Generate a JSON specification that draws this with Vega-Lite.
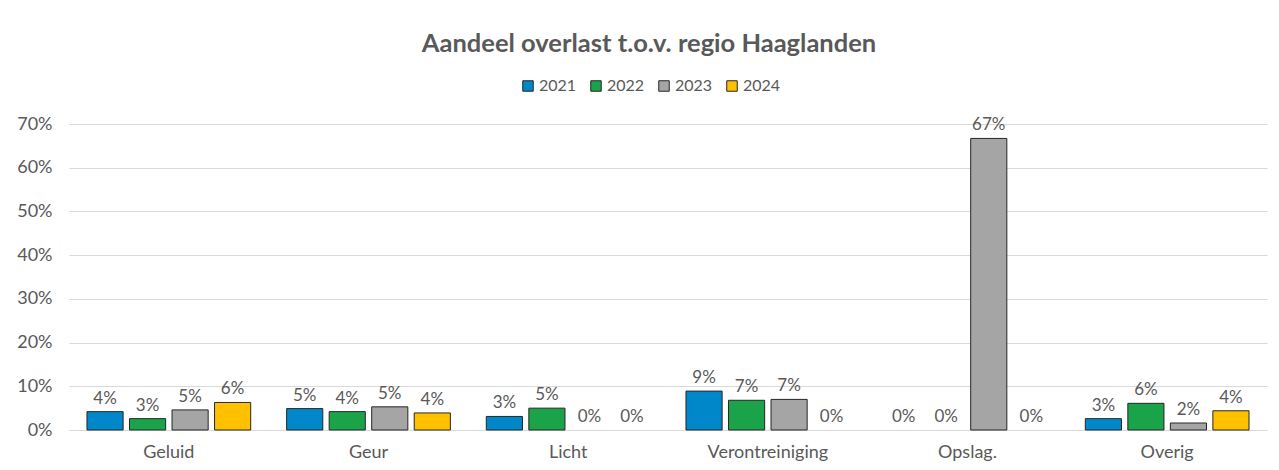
{
  "$schema": "https://vega.github.io/schema/vega-lite/v6.json",
  "width": 1198,
  "height": 306,
  "autosize": {"type": "none"},
  "padding": {"left": 69, "top": 124, "right": 12, "bottom": 40},
  "background": "white",
  "title": {
    "text": "Aandeel overlast t.o.v. regio Haaglanden",
    "font": "Lato",
    "fontSize": 25.5,
    "fontWeight": "bold",
    "color": "#595959",
    "anchor": "middle",
    "dx": -19,
    "offset": 21
  },
  "data": {
    "values": [
      {"cat": "Geluid", "year": "2021", "value": 0.042},
      {"cat": "Geluid", "year": "2022", "value": 0.026},
      {"cat": "Geluid", "year": "2023", "value": 0.046},
      {"cat": "Geluid", "year": "2024", "value": 0.063},
      {"cat": "Geur", "year": "2021", "value": 0.049},
      {"cat": "Geur", "year": "2022", "value": 0.042},
      {"cat": "Geur", "year": "2023", "value": 0.053},
      {"cat": "Geur", "year": "2024", "value": 0.039},
      {"cat": "Licht", "year": "2021", "value": 0.031},
      {"cat": "Licht", "year": "2022", "value": 0.050},
      {"cat": "Licht", "year": "2023", "value": 0},
      {"cat": "Licht", "year": "2024", "value": 0},
      {"cat": "Verontreiniging", "year": "2021", "value": 0.089},
      {"cat": "Verontreiniging", "year": "2022", "value": 0.068},
      {"cat": "Verontreiniging", "year": "2023", "value": 0.070},
      {"cat": "Verontreiniging", "year": "2024", "value": 0},
      {"cat": "Opslag.", "year": "2021", "value": 0},
      {"cat": "Opslag.", "year": "2022", "value": 0},
      {"cat": "Opslag.", "year": "2023", "value": 0.667},
      {"cat": "Opslag.", "year": "2024", "value": 0},
      {"cat": "Overig", "year": "2021", "value": 0.026},
      {"cat": "Overig", "year": "2022", "value": 0.061},
      {"cat": "Overig", "year": "2023", "value": 0.016},
      {"cat": "Overig", "year": "2024", "value": 0.044}
    ]
  },
  "encoding": {
    "x": {
      "field": "cat",
      "type": "nominal",
      "sort": ["Geluid", "Geur", "Licht", "Verontreiniging", "Opslag.", "Overig"],
      "scale": {"paddingInner": 0.18, "paddingOuter": 0.09},
      "axis": {
        "title": null,
        "labelAngle": 0,
        "labelFont": "Lato",
        "labelFontSize": 18,
        "labelColor": "#595959",
        "labelPadding": 13,
        "ticks": false,
        "domainColor": "#d9d9d9",
        "domainWidth": 1
      }
    },
    "xOffset": {
      "field": "year",
      "type": "nominal",
      "scale": {"paddingInner": 0.15, "paddingOuter": 0}
    },
    "y": {
      "field": "value",
      "type": "quantitative",
      "scale": {"domain": [0, 0.7], "nice": false},
      "axis": {
        "title": null,
        "format": ".0%",
        "values": [0, 0.1, 0.2, 0.3, 0.4, 0.5, 0.6, 0.7],
        "labelFont": "Lato",
        "labelFontSize": 18,
        "labelColor": "#595959",
        "labelPadding": 17,
        "ticks": false,
        "domain": false,
        "gridColor": "#d9d9d9",
        "gridWidth": 1
      }
    }
  },
  "layer": [
    {
      "mark": {"type": "bar", "strokeWidth": 1},
      "encoding": {
        "color": {
          "field": "year",
          "type": "nominal",
          "scale": {
            "domain": ["2021", "2022", "2023", "2024"],
            "range": ["#0087C9", "#1BA34A", "#A5A5A5", "#FFC000"]
          },
          "legend": {
            "title": null,
            "orient": "none",
            "legendX": 451,
            "legendY": -46,
            "direction": "horizontal",
            "symbolType": "square",
            "symbolSize": 110,
            "symbolStrokeColor": "#262626",
            "symbolStrokeWidth": 1,
            "labelFont": "Lato",
            "labelFontSize": 16,
            "labelColor": "#595959",
            "labelOffset": 3,
            "columnPadding": 11
          }
        },
        "stroke": {
          "condition": {"test": "datum.value > 0", "value": "#262626"},
          "value": null
        }
      }
    },
    {
      "mark": {
        "type": "text",
        "baseline": "alphabetic",
        "dy": -8,
        "font": "Lato",
        "fontSize": 17,
        "color": "#595959"
      },
      "encoding": {
        "text": {"field": "value", "type": "quantitative", "format": ".0%"}
      }
    }
  ],
  "config": {
    "view": {"stroke": null}
  }
}
